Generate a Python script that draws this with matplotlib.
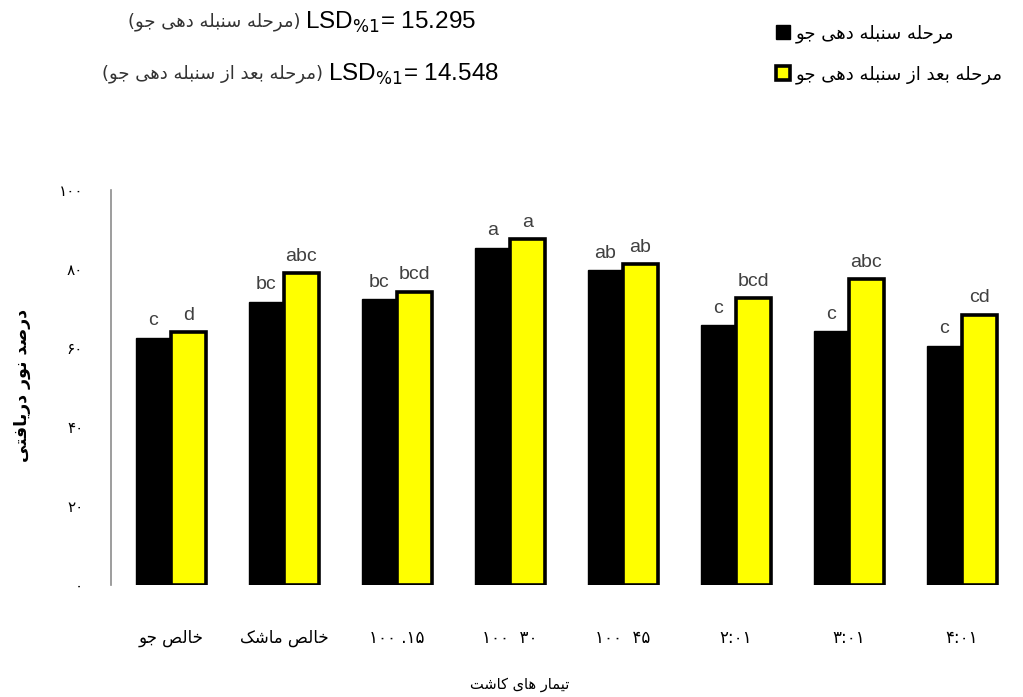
import matplotlib
matplotlib.use("Agg")
import matplotlib.pyplot as plt
import numpy as np

# treatments and light interception values (%) at the two growth stages
treatments = ["خالص جو", "خالص ماشک", "۱۰۰ .۱۵", "۱۰۰  ۳۰", "۱۰۰  ۴۵", "۲:۰۱", "۳:۰۱", "۴:۰۱"]
heading = [62.6, 71.7, 72.3, 85.4, 79.7, 65.8, 64.3, 60.6]
after_heading = [64.0, 78.9, 74.3, 87.5, 81.2, 72.6, 77.4, 68.4]
letters_heading = ["c", "bc", "bc", "a", "ab", "c", "c", "c"]
letters_after = ["d", "abc", "bcd", "a", "ab", "bcd", "abc", "cd"]
yticks = [0, 20, 40, 60, 80, 100]
ytick_labels = ["۰", "۲۰", "۴۰", "۶۰", "۸۰", "۱۰۰"]

stage1 = "مرحله سنبله دهی جو"
stage2 = "مرحله بعد از سنبله دهی جو"

# contextual forms: isolated, final, initial, medial
FORMS = {
    "ا": ("\uFE8D", "\uFE8E"), "د": ("\uFEA9", "\uFEAA"),
    "ر": ("\uFEAD", "\uFEAE"), "ز": ("\uFEAF", "\uFEB0"),
    "و": ("\uFEED", "\uFEEE"),
    "ب": ("\uFE8F", "\uFE90", "\uFE91", "\uFE92"),
    "ت": ("\uFE95", "\uFE96", "\uFE97", "\uFE98"),
    "ج": ("\uFE9D", "\uFE9E", "\uFE9F", "\uFEA0"),
    "ح": ("\uFEA1", "\uFEA2", "\uFEA3", "\uFEA4"),
    "خ": ("\uFEA5", "\uFEA6", "\uFEA7", "\uFEA8"),
    "س": ("\uFEB1", "\uFEB2", "\uFEB3", "\uFEB4"),
    "ش": ("\uFEB5", "\uFEB6", "\uFEB7", "\uFEB8"),
    "ص": ("\uFEB9", "\uFEBA", "\uFEBB", "\uFEBC"),
    "ع": ("\uFEC9", "\uFECA", "\uFECB", "\uFECC"),
    "ف": ("\uFED1", "\uFED2", "\uFED3", "\uFED4"),
    "ک": ("\uFB8E", "\uFB8F", "\uFB90", "\uFB91"),
    "ل": ("\uFEDD", "\uFEDE", "\uFEDF", "\uFEE0"),
    "م": ("\uFEE1", "\uFEE2", "\uFEE3", "\uFEE4"),
    "ن": ("\uFEE5", "\uFEE6", "\uFEE7", "\uFEE8"),
    "ه": ("\uFEE9", "\uFEEA", "\uFEEB", "\uFEEC"),
    "ی": ("\uFBFC", "\uFBFD", "\uFBFE", "\uFBFF"),
}


def fa(text):
    """shape persian letters and put them in visual (right to left) order"""
    if not any(ch in FORMS for ch in text):
        return text  # digits only, already written left to right
    out = []
    for i, ch in enumerate(text):
        if ch not in FORMS:
            out.append(ch)
            continue
        f = FORMS[ch]
        prev = text[i - 1] if i > 0 else ""
        nxt = text[i + 1] if i + 1 < len(text) else ""
        jp = prev in FORMS and len(FORMS[prev]) == 4
        jn = len(f) == 4 and nxt in FORMS
        if jp and jn:
            out.append(f[3])
        elif jp:
            out.append(f[1])
        elif jn:
            out.append(f[2])
        else:
            out.append(f[0])
    return "".join(out)[::-1]


W, H = 1023, 697
fig = plt.figure(figsize=(W / 100, H / 100), dpi=100)
ax = fig.add_axes([111 / W, 1 - 585 / H, 907 / W, 395 / H])

x = np.arange(len(treatments))
width = 0.31
b1 = ax.bar(x - width / 2, heading, width, color="black", edgecolor="black", linewidth=1)
b2 = ax.bar(x + width / 2, after_heading, width, color="#ffff00", edgecolor="black", linewidth=2.6)

# mean separation letters above bars
for bars, labels in ((b1, letters_heading), (b2, letters_after)):
    for rect, lab in zip(bars, labels):
        ax.annotate(lab, xy=(rect.get_x() + rect.get_width() / 2, rect.get_height()),
                    xytext=(0, 6), textcoords="offset points", ha="center", va="bottom",
                    fontsize=14, color="#404040", family="Liberation Sans")

ax.set_xlim(-0.531, 7.5)
ax.set_ylim(0, 100)
ax.set_yticks(yticks)
ax.set_yticklabels(ytick_labels, family="DejaVu Sans", fontsize=11)
ax.set_xticks(x)
ax.set_xticklabels([fa(t) for t in treatments], family="DejaVu Sans", fontsize=12)
ax.tick_params(axis="y", length=0, pad=20)
ax.tick_params(axis="x", length=0, pad=32)
for s in ("top", "right", "bottom"):
    ax.spines[s].set_visible(False)
ax.spines["left"].set_color("#8c8c8c")
ax.spines["left"].set_linewidth(1.2)

fig.text(22 / W, 1 - 385 / H, fa("درصد نور دریافتی"), rotation=90, ha="center", va="center",
         family="DejaVu Sans", fontsize=12.5, weight="bold")
fig.text(520 / W, 1 - 684 / H, fa("تیمار های کاشت"), ha="center", va="center",
         family="DejaVu Sans", fontsize=10.5)

# LSD values for each stage
fig.text(300 / W, 1 - 22 / H, "(" + fa(stage1) + ")", ha="right", va="center",
         family="DejaVu Sans", fontsize=13, color="#333333")
fig.text(305 / W, 1 - 22 / H, r"LSD$_{\%1}$= 15.295", ha="left", va="center",
         family="Liberation Sans", fontsize=17.5)
fig.text(323 / W, 1 - 74 / H, "(" + fa(stage2) + ")", ha="right", va="center",
         family="DejaVu Sans", fontsize=13, color="#333333")
fig.text(328 / W, 1 - 74 / H, r"LSD$_{\%1}$= 14.548", ha="left", va="center",
         family="Liberation Sans", fontsize=17.5)

fig.legend([b1, b2], [fa(stage1), fa(stage2)], loc="upper left",
           bbox_to_anchor=(760 / W, 1 - 8 / H), frameon=False,
           handlelength=0.75, handleheight=0.75, handletextpad=0.35, labelspacing=1.25,
           prop={"family": "DejaVu Sans", "size": 13})

fig.savefig("out.png", dpi=100)
